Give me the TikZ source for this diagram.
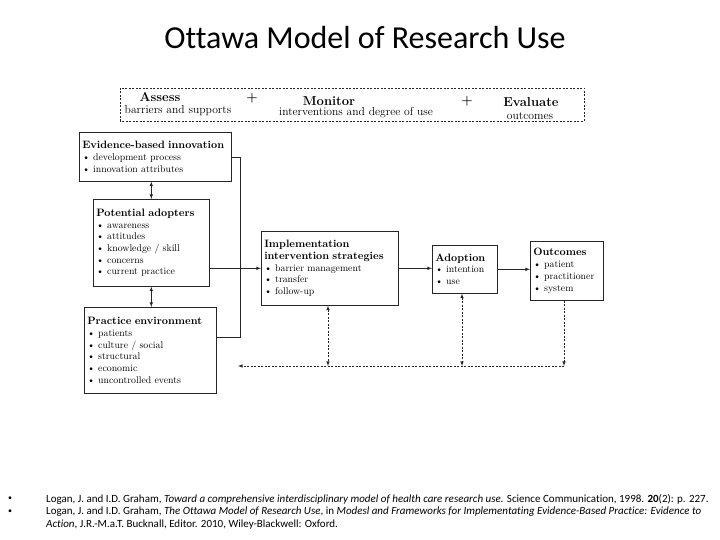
\documentclass[tikz,border=0pt]{standalone}
\usepackage{fontspec}
\newfontfamily\calibri{Carlito}[Ligatures=NoCommon]
\usetikzlibrary{arrows.meta}

\tikzset{
  box/.style={draw=black!85, line width=0.6pt, anchor=north west, align=left, inner sep=3pt,
    font=\fontsize{9.8}{11.7}\selectfont},
  link/.style={black!85, line width=0.6pt},
  feed/.style={black!85, line width=0.6pt, dash pattern=on 2pt off 1.5pt},
  toptext/.style={font=\fontsize{11.6}{12}\selectfont, inner sep=0pt},
  tophead/.style={font=\fontsize{13}{14}\selectfont\bfseries, inner sep=0pt},
  reftext/.style={font=\calibri\fontsize{11}{13}\selectfont, inner sep=0pt, align=left}
}
\newcommand{\boxhead}[1]{{\fontsize{10.7}{12.5}\selectfont\bfseries #1}}

\begin{document}
\begin{tikzpicture}[x=1pt,y=-1pt]
\useasboundingbox (0,0) rectangle (720,540);

% title
\node[font=\calibri\fontsize{32}{34}\selectfont] (title) at (365,38) {Ottawa Model of Research Use};

% assess / monitor / evaluate strip
\draw[feed] (120,88) rectangle (584,121);
\node[tophead] (assess) at (160,97) {Assess};
\node[toptext] (assessSub) at (178,111) {barriers and supports};
\node[tophead] (plusA) at (252,98) {+};
\node[tophead] (monitor) at (329,101) {Monitor};
\node[toptext] (monitorSub) at (356,113) {interventions and degree of use};
\node[tophead] (plusB) at (467,101) {+};
\node[tophead] (evaluate) at (531,102) {Evaluate};
\node[toptext] (evaluateSub) at (530,116) {outcomes};

% left column
\node[box, minimum height=49pt, text width=146pt] (evid) at (79,132)
  {\boxhead{Evidence-based innovation}\\ • development process\\ • innovation attributes};
\node[box, minimum height=87pt, text width=110pt] (adopt) at (93,199)
  {\boxhead{Potential adopters}\\ • awareness\\ • attitudes\\ • knowledge / skill\\ • concerns\\ • current practice};
\node[box, minimum height=86pt, text width=126pt] (env) at (84,307)
  {\boxhead{Practice environment}\\ • patients\\ • culture / social\\ • structural\\ • economic\\ • uncontrolled events};

% middle and right
\node[box, minimum height=74pt, text width=131pt] (impl) at (261,231)
  {\boxhead{Implementation}\\ \boxhead{intervention strategies}\\ • barrier management\\ • transfer\\ • follow-up};
\node[box, minimum height=48pt, text width=59pt] (adoption) at (432,245)
  {\boxhead{Adoption}\\ • intention\\ • use};
\node[box, minimum height=59pt, text width=67pt] (outc) at (530,241)
  {\boxhead{Outcomes}\\ • patient\\ • practitioner\\ • system};

% connectors
\draw[link,latex-latex] (adopt.north) -- (adopt.north |- evid.south);
\draw[link,latex-latex] (adopt.south) -- (adopt.south |- env.north);

\coordinate (busTop) at (240,157);
\coordinate (busBot) at (240,337);
\draw[link] (evid.east |- busTop) -- (busTop) -- (busBot) -- (env.east |- busBot);

\draw[link,-latex] (adopt.east |- impl.west) -- (impl.west);
\draw[link,-latex] (impl.east) -- (impl.east -| adoption.west);
\draw[link,-latex] (adoption.east) -- (adoption.east -| outc.west);

% feedback
\coordinate (fbOut) at (564,366);
\coordinate (fbImpl) at (328,366);
\coordinate (fbAdopt) at (462,366);
\coordinate (fbEnd) at (238,366);
\draw[feed,-latex] (outc.south -| fbOut) -- (fbOut);
\draw[feed,-latex] (fbOut) -- (fbEnd);
\draw[feed,latex-latex] (impl.south -| fbImpl) -- (fbImpl);
\draw[feed,latex-latex] (adoption.south -| fbAdopt) -- (fbAdopt);

% references
\node[reftext, font=\calibri\fontsize{8}{9}\selectfont] (dotA) at (10,499) {•};
\node[reftext, font=\calibri\fontsize{8}{9}\selectfont] (dotB) at (10,512) {•};
\node[reftext, anchor=west] (refA) at (46,499)
  {Logan, J. and I.D. Graham, \textit{Toward a comprehensive interdisciplinary model of health care research use.} Science Communication, 1998. \textbf{20}(2): p. 227.};
\node[reftext, anchor=north west] (refB) at (46,507)
  {Logan, J. and I.D. Graham, \textit{The Ottawa Model of Research Use}, in \textit{Modesl and Frameworks for Implementating Evidence-Based Practice: Evidence to}\\
   \textit{Action}, J.R.-M.a.T. Bucknall, Editor. 2010, Wiley-Blackwell: Oxford.};
\end{tikzpicture}
\end{document}
